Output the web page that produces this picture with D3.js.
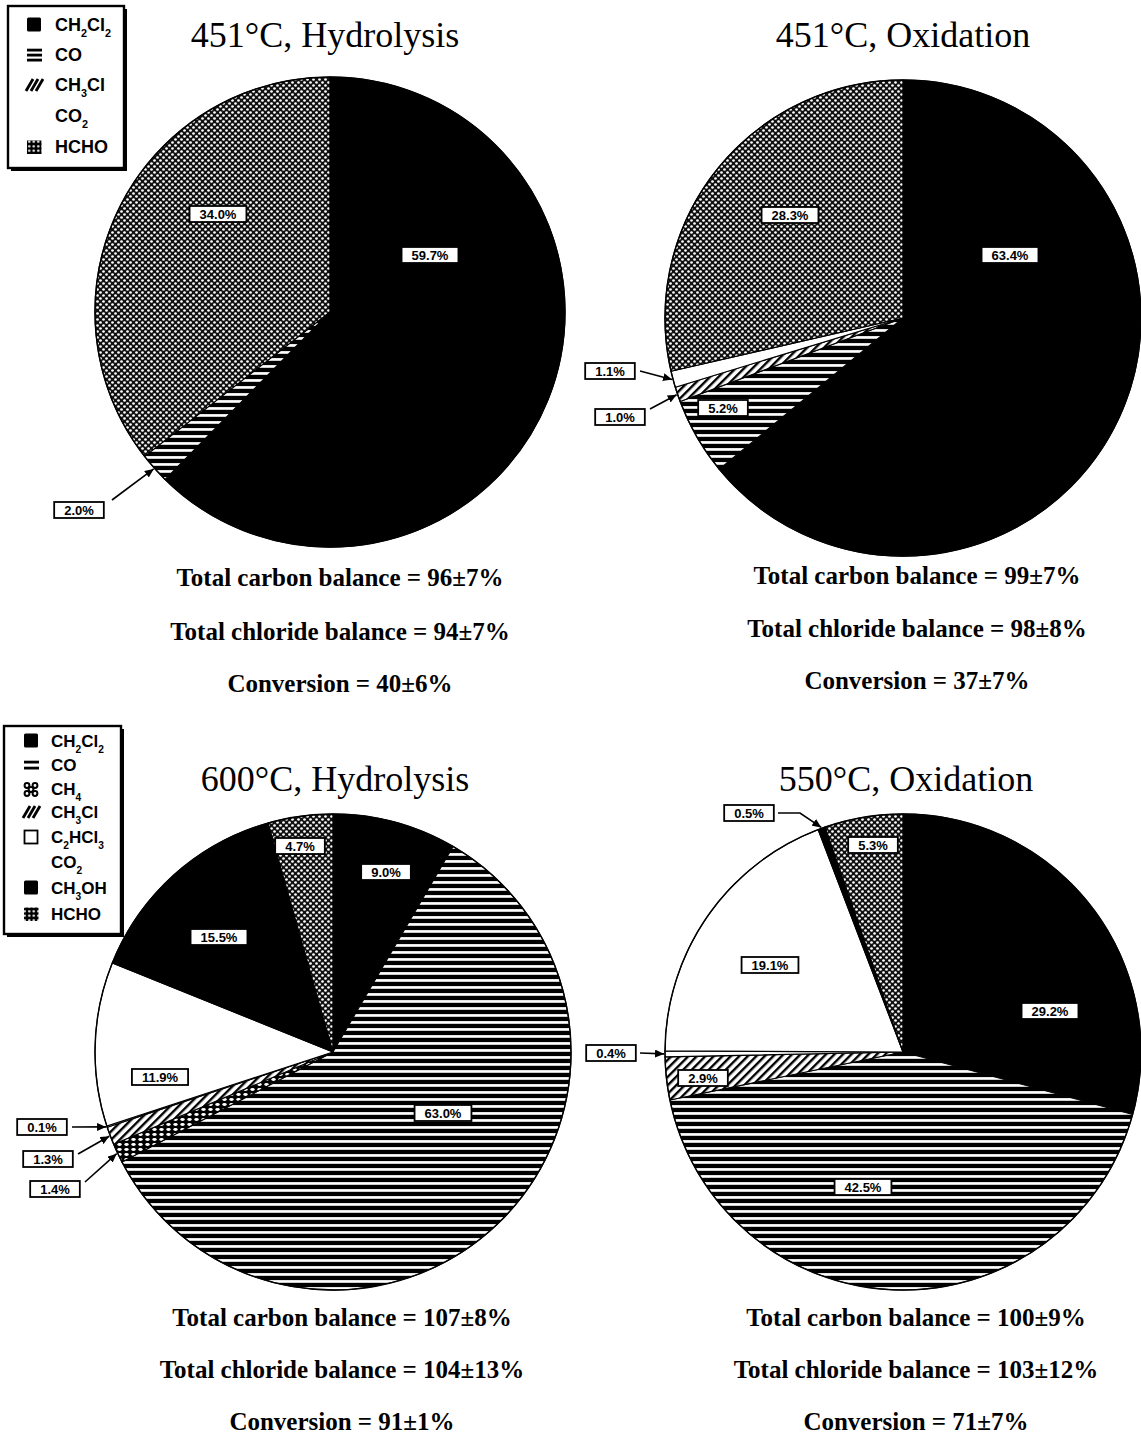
<!DOCTYPE html>
<html><head><meta charset="utf-8">
<script src="https://cdn.jsdelivr.net/npm/d3@7"></script>
<style>body{margin:0;background:#fff} svg{display:block}</style>
</head><body>
<svg id="chart" width="1141" height="1435"></svg>
<script>
// Carbon product distributions (%) from CH2Cl2 reactions in supercritical water
const legendTop = ["CH2Cl2", "CO", "CH3Cl", "CO2", "HCHO"];
const legendBottom = ["CH2Cl2", "CO", "CH4", "CH3Cl", "C2HCl3", "CO2", "CH3OH", "HCHO"];

const titles = ["451°C, Hydrolysis", "451°C, Oxidation", "600°C, Hydrolysis", "550°C, Oxidation"];

const species451H = ["CH2Cl2", "CO", "HCHO"];
const values451H = [59.7, 2.0, 34.0];
const species451O = ["CH2Cl2", "CO", "CH3Cl", "CO2", "HCHO"];
const values451O = [63.4, 5.2, 1.0, 1.1, 28.3];
const species600H = ["CH2Cl2", "CO", "CH4", "CH3Cl", "C2HCl3", "CO2", "CH3OH", "HCHO"];
const values600H = [9.0, 63.0, 1.4, 1.3, 0.1, 11.9, 15.5, 4.7];
const species550O = ["CH2Cl2", "CO", "CH3Cl", "C2HCl3", "CO2", "CH3OH", "HCHO"];
const values550O = [29.2, 42.5, 2.9, 0.4, 19.1, 0.5, 5.3];

const carbonBalance = ["96±7%", "99±7%", "107±8%", "100±9%"];
const chlorideBalance = ["94±7%", "98±8%", "104±13%", "103±12%"];
const conversion = ["40±6%", "37±7%", "91±1%", "71±7%"];

// ---- layout ----
// in-pie labels: offset from pie centre; callouts: box centre + arrow start (page coords)
const panels = [
  { species: species451H, values: values451H, cx: 330, cy: 312, r: 235,
    titleX: 325, titleY: 47, textX: 340, textY: [586, 640, 692],
    labels: [ {dx: 100, dy: -57}, {box: [79, 510], from: [112, 500]}, {dx: -112, dy: -98} ] },
  { species: species451O, values: values451O, cx: 903, cy: 318, r: 238,
    titleX: 903, titleY: 47, textX: 917, textY: [584, 637, 689],
    labels: [ {dx: 107, dy: -63}, {dx: -180, dy: 90}, {box: [620, 417], from: [650, 409]},
              {box: [610, 371], from: [640, 371]}, {dx: -113, dy: -103} ] },
  { species: species600H, values: values600H, cx: 333, cy: 1052, r: 238,
    titleX: 335, titleY: 791, textX: 342, textY: [1326, 1378, 1430],
    labels: [ {dx: 53, dy: -180}, {dx: 110, dy: 61}, {box: [55, 1189], from: [85, 1182]},
              {box: [48, 1159], from: [78, 1154]}, {box: [42, 1127], from: [72, 1127]},
              {dx: -173, dy: 25}, {dx: -114, dy: -115}, {dx: -33, dy: -206} ] },
  { species: species550O, values: values550O, cx: 903, cy: 1052, r: 238,
    titleX: 906, titleY: 791, textX: 916, textY: [1326, 1378, 1430],
    labels: [ {dx: 147, dy: -41}, {dx: -40, dy: 135}, {dx: -200, dy: 26},
              {box: [611, 1053], from: [640, 1053]}, {dx: -133, dy: -87},
              {box: [749, 813], from: [778, 813], via: [800, 813]}, {dx: -30, dy: -207} ] }
];

const svg = d3.select("#chart");
const defs = svg.append("defs");

// hatch patterns
function pattern(id, w, h, extra) {
  return defs.append("pattern").attr("id", id).attr("patternUnits", "userSpaceOnUse")
    .attr("width", w).attr("height", h).call(p => extra && p.attr("patternTransform", extra));
}
let p = pattern("pCO", 8, 7);
p.append("rect").attr("width", 8).attr("height", 7).attr("fill", "#000");
p.append("rect").attr("y", 4.1).attr("width", 8).attr("height", 2.7).attr("fill", "#fff");

p = pattern("pCH3Cl", 6, 6, "rotate(45)");
p.append("rect").attr("width", 6).attr("height", 6).attr("fill", "#fff");
p.append("rect").attr("width", 2.4).attr("height", 6).attr("fill", "#000");

p = pattern("pHCHO", 6, 6);
p.append("rect").attr("width", 6).attr("height", 6).attr("fill", "#111");
p.append("circle").attr("cx", 1.5).attr("cy", 1.5).attr("r", 1.35).attr("fill", "#fff");
p.append("circle").attr("cx", 4.5).attr("cy", 4.5).attr("r", 1.35).attr("fill", "#fff");

p = pattern("pCH4", 7, 5);
p.append("rect").attr("width", 7).attr("height", 5).attr("fill", "#000");
p.append("ellipse").attr("cx", 3.5).attr("cy", 2.5).attr("rx", 2.2).attr("ry", 1.4).attr("fill", "#fff");

p = pattern("pHCHOsw", 4.5, 4.5);
p.append("rect").attr("width", 4.5).attr("height", 4.5).attr("fill", "#000");
p.append("circle").attr("cx", 2.25).attr("cy", 2.25).attr("r", 1.2).attr("fill", "#fff");

const fills = {
  CH2Cl2: "#000", CO: "url(#pCO)", CH4: "url(#pCH4)", CH3Cl: "url(#pCH3Cl)",
  C2HCl3: "#fff", CO2: "#fff", CH3OH: "#000", HCHO: "url(#pHCHO)"
};

defs.append("marker").attr("id", "arrow").attr("markerUnits", "userSpaceOnUse")
  .attr("markerWidth", 10).attr("markerHeight", 8).attr("refX", 9).attr("refY", 4)
  .attr("orient", "auto")
  .append("path").attr("d", "M0,0 L9,4 L0,8 Z").attr("fill", "#000");

const fmt = v => v.toFixed(1) + "%";

function labelBox(g, x, y, text) {
  const t = g.append("text").attr("x", x).attr("y", y + 4.6)
    .attr("text-anchor", "middle").attr("font-family", "Liberation Sans, Arial, sans-serif")
    .attr("font-weight", "bold").attr("font-size", 13).text(text);
  const w = t.node().getComputedTextLength() + 20;
  g.insert("rect", () => t.node()).attr("x", x - w / 2).attr("y", y - 8).attr("width", w).attr("height", 16)
    .attr("fill", "#fff").attr("stroke", "#000").attr("stroke-width", 1.8);
}

panels.forEach((pn, k) => {
  const data = pn.species.map((s, i) => ({ s, v: pn.values[i] }));
  const arcs = d3.pie().sort(null).value(d => d.v)(data);
  const arc = d3.arc().innerRadius(0).outerRadius(pn.r);

  const g = svg.append("g").attr("transform", `translate(${pn.cx},${pn.cy})`);
  g.selectAll("path").data(arcs).join("path")
    .attr("d", arc).attr("fill", d => fills[d.data.s])
    .attr("stroke", "#000").attr("stroke-width", 1.1).attr("stroke-linejoin", "round");
  g.append("circle").attr("r", pn.r).attr("fill", "none").attr("stroke", "#000").attr("stroke-width", 1.4);

  const lg = svg.append("g");
  arcs.forEach((a, i) => {
    const L = pn.labels[i];
    const txt = fmt(a.data.v);
    if (L.box) {
      const mid = (a.startAngle + a.endAngle) / 2;
      const tip = [pn.cx + (pn.r + 1) * Math.sin(mid), pn.cy - (pn.r + 1) * Math.cos(mid)];
      const pts = [L.from].concat(L.via ? [L.via] : []).concat([tip]);
      lg.append("path").attr("d", d3.line()(pts)).attr("fill", "none")
        .attr("stroke", "#000").attr("stroke-width", 1.6).attr("marker-end", "url(#arrow)");
      labelBox(lg, L.box[0], L.box[1], txt);
    } else {
      labelBox(lg, pn.cx + L.dx, pn.cy + L.dy, txt);
    }
  });

  svg.append("text").attr("x", pn.titleX).attr("y", pn.titleY).attr("text-anchor", "middle")
    .attr("font-family", "Liberation Serif, Times New Roman, serif").attr("font-size", 36)
    .text(titles[k]);

  const lines = ["Total carbon balance = " + carbonBalance[k],
                 "Total chloride balance = " + chlorideBalance[k],
                 "Conversion = " + conversion[k]];
  lines.forEach((s, j) => svg.append("text").attr("x", pn.textX).attr("y", pn.textY[j])
    .attr("text-anchor", "middle").attr("font-family", "Liberation Serif, Times New Roman, serif")
    .attr("font-weight", "bold").attr("font-size", 25).text(s));
});

// ---- legends ----
function formula(textSel, f, fs) {
  const parts = f.match(/[A-Za-z]+|\d+/g);
  let sub = false;
  parts.forEach(part => {
    const isSub = /\d/.test(part);
    const t = textSel.append("tspan").text(part);
    if (isSub) { t.attr("font-size", fs * 0.6).attr("dy", fs * 0.32); sub = true; }
    else if (sub) { t.attr("dy", -fs * 0.32); sub = false; }
  });
}

function swatch(g, s, x, y, nLines) {
  if (s === "CH2Cl2" || s === "CH3OH") {
    g.append("rect").attr("x", x).attr("y", y - 7.5).attr("width", 14).attr("height", 14).attr("rx", 1.5).attr("fill", "#000");
  } else if (s === "CO") {
    const ys = nLines === 3 ? [-5, 0, 5] : [-3, 3];
    ys.forEach(o => g.append("rect").attr("x", x).attr("y", y + o - 1.3).attr("width", 15).attr("height", 2.8).attr("fill", "#000"));
  } else if (s === "CH3Cl") {
    [0, 5, 10].forEach(o => g.append("line").attr("x1", x + o - 1).attr("y1", y + 6).attr("x2", x + o + 6).attr("y2", y - 6)
      .attr("stroke", "#000").attr("stroke-width", 2.8));
  } else if (s === "C2HCl3") {
    g.append("rect").attr("x", x + 0.5).attr("y", y - 6.5).attr("width", 13).attr("height", 13)
      .attr("fill", "#fff").attr("stroke", "#000").attr("stroke-width", 1.8);
  } else if (s === "HCHO") {
    g.append("rect").attr("x", x).attr("y", y - 6.5).attr("width", 14.5).attr("height", 13.5).attr("fill", "url(#pHCHOsw)");
  } else if (s === "CH4") {
    [[3, -3.5], [11, -3.5], [7, 0.5], [3, 4.5], [11, 4.5]].forEach(c => g.append("circle")
      .attr("cx", x + c[0]).attr("cy", y + c[1]).attr("r", 2.4).attr("fill", "none").attr("stroke", "#000").attr("stroke-width", 2));
  }
}

function legend(items, box, ys, symX, textX, fs, nLines) {
  const g = svg.append("g");
  g.append("rect").attr("x", box[0] + 3).attr("y", box[1] + 3).attr("width", box[2]).attr("height", box[3]).attr("fill", "#000");
  g.append("rect").attr("x", box[0]).attr("y", box[1]).attr("width", box[2]).attr("height", box[3])
    .attr("fill", "#fff").attr("stroke", "#000").attr("stroke-width", 2.4);
  items.forEach((s, i) => {
    swatch(g, s, symX, ys[i], nLines);
    const t = g.append("text").attr("x", textX).attr("y", ys[i] + fs * 0.36)
      .attr("font-family", "Liberation Sans, Arial, sans-serif").attr("font-weight", "bold")
      .attr("font-size", fs);
    formula(t, s, fs);
  });
}

legend(legendTop, [8, 6, 116, 162], [25, 55, 85, 116, 147], 27, 55, 18, 3);
legend(legendBottom, [4, 726, 117, 208], [741, 765, 789, 812, 837, 862, 888, 914], 24, 51, 17, 2);
</script>
</body></html>
